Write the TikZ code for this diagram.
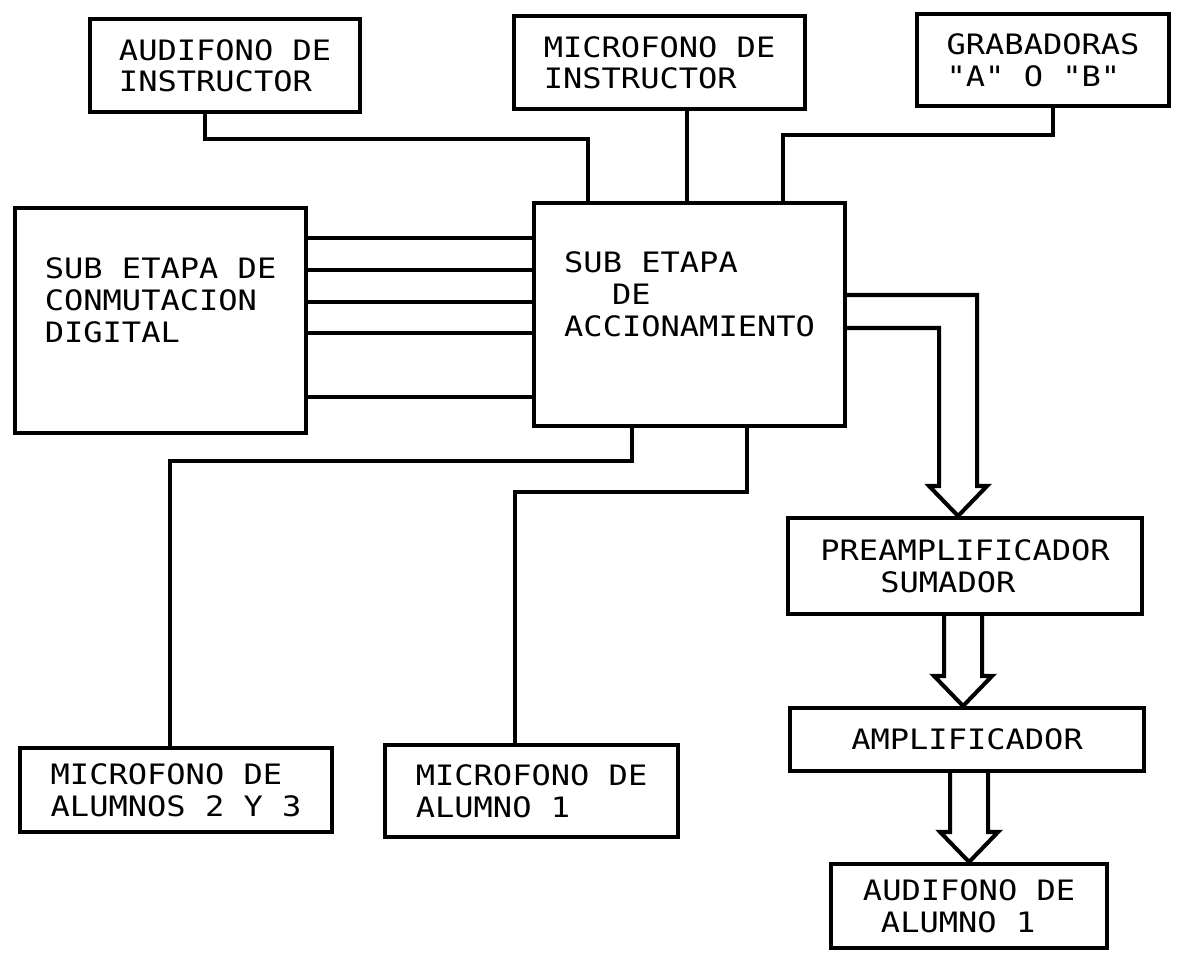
\documentclass[tikz,border=0pt]{standalone}
\usepackage{fontspec}
\newfontfamily\plotfont[FakeStretch=1.14]{DejaVu Sans Mono}
\usetikzlibrary{calc}

\begin{document}
\begin{tikzpicture}[x=0.02cm, y=-0.02cm,
    box/.style={draw, line width=2.4pt, anchor=north west, align=left, inner sep=2pt,
                font=\plotfont\fontsize{16pt}{18pt}\selectfont},
    wire/.style={line width=2.3pt}]
    \useasboundingbox (0,0) rectangle (1178,955);
    % 上排：教师耳机、话筒、录音机
    \node[box, minimum width=5.4cm, minimum height=1.86cm] (audInst) at (88,17) {AUDIFONO DE\\INSTRUCTOR};
    \node[box, minimum width=5.82cm, minimum height=1.86cm] (micInst) at (512,14) {MICROFONO DE\\INSTRUCTOR};
    \node[box, minimum width=5.04cm, minimum height=1.84cm] (grab) at (915,12) {GRABADORAS\\"A" O "B"};
    % 中间两级
    \node[box, minimum width=5.82cm, minimum height=4.5cm] (conm) at (13,206) {SUB ETAPA DE\\CONMUTACION\\DIGITAL\\\strut};
    \node[box, minimum width=6.22cm, minimum height=4.46cm] (accion) at (532,201) {SUB ETAPA\\\hspace*{0.96cm}DE\\ACCIONAMIENTO\\\strut};
    % 右侧放大链
    \node[box, minimum width=7.08cm, minimum height=1.92cm] (preamp) at (786,516) {PREAMPLIFICADOR\\\hspace*{1.2cm}SUMADOR};
    \node[box, minimum width=7.08cm, minimum height=1.26cm] (amplif) at (788,706) {AMPLIFICADOR};
    \node[box, minimum width=5.52cm, minimum height=1.68cm] (audAl) at (829,862) {AUDIFONO DE\\\hspace*{0.36cm}ALUMNO 1};
    % 下排：学生话筒
    \node[box, minimum width=6.24cm, minimum height=1.68cm] (micAlB) at (18,746) {MICROFONO DE\\ALUMNOS 2 Y 3};
    \node[box, minimum width=5.86cm, minimum height=1.84cm] (micAlA) at (383,743) {MICROFONO DE\\ALUMNO 1};

    % 上方连线
    \coordinate (a1) at (205,139);
    \coordinate (a2) at (588,139);
    \coordinate (m1) at (687,0);
    \coordinate (g1) at (1053,135);
    \coordinate (g2) at (783,135);
    \draw[wire] (audInst.south -| a1) -- (a1) -- (a2) -- (a2 |- accion.north);
    \draw[wire] (micInst.south -| m1) -- (accion.north -| m1);
    \draw[wire] (grab.south -| g1) -- (g1) -- (g2) -- (g2 |- accion.north);
    % 两级之间的并行线
    \foreach \y in {238,270,302,333,397}{
        \coordinate (hy) at (0,\y);
        \draw[wire] (conm.east |- hy) -- (accion.west |- hy);
    }
    % 下方连线
    \coordinate (b1) at (632,461);
    \coordinate (b2) at (170,461);
    \coordinate (c1) at (747,492);
    \coordinate (c2) at (515,492);
    \draw[wire] (accion.south -| b1) -- (b1) -- (b2) -- (b2 |- micAlB.north);
    \draw[wire] (accion.south -| c1) -- (c1) -- (c2) -- (c2 |- micAlA.north);
    % 空心箭头
    \coordinate (o1) at (900,295);
    \coordinate (o2) at (900,328);
    \coordinate (t1) at ($(preamp.north)+(-7,0)$);
    \coordinate (t2) at ($(amplif.north)+(-4,0)$);
    \coordinate (t3) at (audAl.north);
    \draw[wire] (accion.east |- o2) -| ($(t1)+(-19,-30)$) -- ($(t1)+(-29,-30)$) -- (t1)
        -- ($(t1)+(29,-30)$) -- ($(t1)+(19,-30)$) |- (accion.east |- o1);
    \draw[wire] ($(t2 |- preamp.south)+(-19,0)$) -- ($(t2)+(-19,-30)$) -- ($(t2)+(-29,-30)$) -- (t2)
        -- ($(t2)+(29,-30)$) -- ($(t2)+(19,-30)$) -- ($(t2 |- preamp.south)+(19,0)$);
    \draw[wire] ($(t3 |- amplif.south)+(-19,0)$) -- ($(t3)+(-19,-30)$) -- ($(t3)+(-29,-30)$) -- (t3)
        -- ($(t3)+(29,-30)$) -- ($(t3)+(19,-30)$) -- ($(t3 |- amplif.south)+(19,0)$);
\end{tikzpicture}
\end{document}
